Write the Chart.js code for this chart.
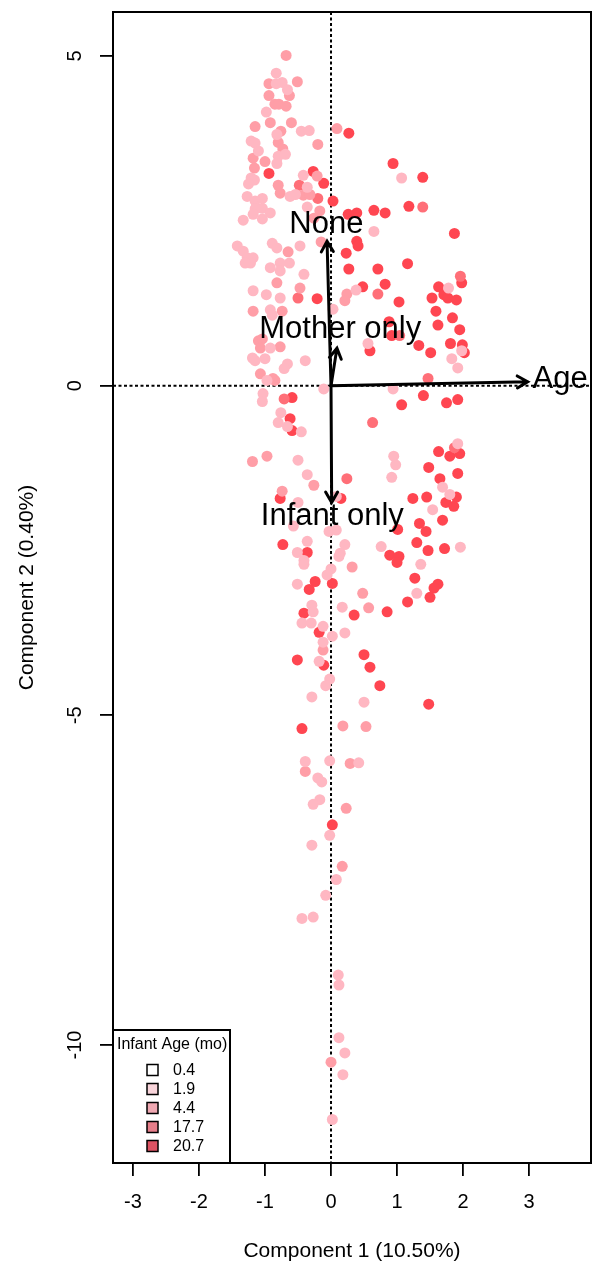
<!DOCTYPE html>
<html lang="en">
<head>
<meta charset="UTF-8">
<title>PCA biplot - Infant Age</title>
<script src="https://cdn.jsdelivr.net/npm/chart.js"></script>
<style>
  html, body { margin: 0; padding: 0; background: #fff; }
  #wrap { width: 592px; height: 1267px; }
</style>
</head>
<body>
<div id="wrap"><canvas id="biplot" width="592" height="1267"></canvas></div>
<script>
// legend groups (infant age, months)
const ageLabels = ['0.4', '1.9', '4.4', '17.7', '20.7'];
const legendColors = ['#ffffff', '#f8d4da', '#efa8b2', '#e67e8a', '#dd5363'];
const pointColors = ['#ffffff', '#ffb7c2', '#ff9ea7', '#ff6f78', '#ff4651'];

// sample scores [component 1, component 2], by age group
const pts04 = [];
const pts19 = [
  [-0.83,4.74],[-0.83,4.58],[-0.74,4.60],[-0.66,4.49],[-0.98,4.15],[-0.45,3.86],[-0.33,3.87],[-0.82,3.81],
  [-1.21,3.71],[-1.15,3.68],[-1.10,3.56],[-0.80,3.48],[-0.69,3.51],[-0.82,3.37],[-0.42,3.19],[-1.21,3.15],
  [-1.16,3.12],[-1.25,3.06],[-0.36,3.01],[-0.62,2.87],[-0.54,2.90],[-1.27,2.87],[-1.15,2.80],[-1.04,2.84],
  [-0.36,2.71],[-1.15,2.68],[-1.04,2.69],[-0.92,2.62],[-1.18,2.60],[-1.33,2.51],[-1.04,2.53],
  [1.07,3.15],[0.65,2.34],[0.38,1.45],[1.78,1.48],[1.98,0.53],[1.83,0.41],[1.92,0.27],[0.56,0.64],
  [-1.42,2.12],[-1.33,2.04],[-1.27,1.94],[-1.18,1.94],[-1.22,1.86],[-1.30,1.86],[-0.89,2.16],[-0.82,2.09],
  [-0.47,2.12],[-0.77,1.86],[-0.63,1.86],[-0.92,1.79],[-0.77,1.74],[-0.41,1.69],[-1.18,1.44],[-0.98,1.38],
  [-0.77,1.33],[-0.92,1.15],[-0.89,1.07],[0.03,1.16],[-0.92,0.57],[-1.19,0.42],[-1.15,0.38],[-1.00,0.41],
  [-0.66,0.33],[-0.71,0.26],[-0.39,0.38],[-0.97,0.08],
  [-0.11,-0.05],[-1.03,-0.12],[-1.04,-0.24],[-0.76,-0.41],[-0.80,-0.56],[-0.66,-0.62],[-0.45,-0.70],
  [-0.50,-1.13],[-0.36,-1.35],[-0.50,-1.77],[0.08,-1.68],[-0.57,-2.13],[-0.03,-2.21],[0.08,-2.19],
  [-0.36,-2.36],[0.21,-2.41],[-0.51,-2.53],[0.14,-2.54],
  [0.94,-0.05],[1.92,-0.88],[0.95,-1.07],[0.98,-1.20],[0.92,-1.39],[1.69,-1.54],[1.80,-1.65],[1.54,-1.88],
  [0.76,-2.44],[1.96,-2.45],[1.36,-2.71],
  [-0.41,-2.65],[-0.41,-2.71],[0.12,-2.59],[0.00,-2.78],[-0.06,-2.87],[-0.51,-3.01],[1.30,-3.15],[-0.29,-3.33],
  [-0.27,-3.43],[0.17,-3.36],[-0.44,-3.60],[-0.30,-3.60],[-0.12,-3.65],[0.02,-3.80],[0.21,-3.75],[-0.12,-3.89],
  [-0.18,-4.18],[-0.02,-4.45],[-0.08,-4.55],[-0.29,-4.72],[0.50,-4.80],[-0.39,-5.70],[-0.02,-5.69],[0.42,-5.72],
  [-0.20,-5.95],[-0.14,-6.01],[-0.17,-6.28],[-0.27,-6.35],[-0.02,-6.82],[-0.29,-6.97],[0.08,-7.49],[-0.08,-7.73],
  [-0.44,-8.08],[-0.27,-8.06],[0.11,-8.94],[0.12,-9.09],[0.12,-9.89],[0.21,-10.12],[0.18,-10.45],[0.02,-11.13]
];
const pts44 = [
  [-0.68,5.01],[-0.94,4.58],[-0.51,4.61],[-0.63,4.40],[-0.94,4.40],[-0.85,4.27],[-0.79,4.27],[-0.68,4.24],
  [-0.92,3.99],[-0.60,3.99],[-1.15,3.93],[-0.76,3.86],[0.09,3.90],[-0.80,3.69],[-0.20,3.66],[-0.73,3.59],
  [-1.18,3.45],[-1.00,3.40],[-1.16,3.30],[-0.21,3.18],[-0.80,3.04],[-0.77,2.92],[-0.42,2.89],[-0.32,2.90],
  [-0.17,2.65],[-0.26,2.54],[-0.15,2.18],[0.24,1.39],[0.21,1.29],[-0.65,2.03],[-0.82,1.56],[-0.47,1.48],
  [-1.18,1.13],[-0.74,1.13],[-1.10,0.68],[-1.04,0.71],[-1.07,0.57],[-0.77,0.59],[-1.07,0.18],[-0.88,0.11],
  [-0.85,0.08],[-0.97,-1.07],[-1.19,-1.15],[-0.26,-1.51],[-0.74,-1.60],[0.32,-2.75],[0.48,-3.15],[0.57,-3.37],
  [-0.12,-4.01],[0.18,-5.16],[0.53,-5.17],[-0.39,-5.85],[0.29,-5.73],[0.23,-6.41],[0.17,-7.29],[0.00,-10.26]
];
const pts177 = [
  [-0.48,3.04],[-0.20,2.84],[1.39,2.71],[0.71,1.39],[1.96,1.66],[1.47,0.11],[1.04,0.76],[-0.50,1.33],
  [-0.71,-0.20],[0.24,-1.41],[0.63,-0.56],[1.87,-0.94]
];
const pts207 = [
  [0.27,3.83],[-0.94,3.22],[-0.27,3.25],[-0.11,3.07],[0.03,2.80],[0.94,3.37],[1.39,3.16],[1.18,2.72],
  [0.65,2.66],[0.82,2.62],[0.39,2.62],[0.26,2.60],[0.39,2.19],[0.41,2.12],[1.87,2.31],[0.23,2.01],
  [1.16,1.85],[0.71,1.77],[0.27,1.77],[0.82,1.54],[0.48,1.50],[1.03,1.27],[1.98,1.56],[1.63,1.50],
  [1.53,1.33],[1.71,1.38],[1.77,1.33],[1.90,1.30],[1.59,1.13],[1.84,1.03],[1.62,0.92],[1.95,0.85],
  [0.88,0.97],[0.92,0.76],[1.33,0.61],[1.51,0.50],[1.81,0.64],[1.99,0.62],[2.02,0.50],[0.59,0.53],
  [-0.21,1.32],[-0.59,-0.18],[-0.62,-0.50],[-0.59,-0.68],[-0.77,-1.71],[0.15,-1.71],[-0.73,-2.41],[-0.36,-2.53],
  [1.40,-0.15],[1.07,-0.29],[1.75,-0.26],[1.92,-0.21],[1.63,-1.00],[1.80,-1.07],[1.95,-1.03],[1.48,-1.24],
  [1.92,-1.33],[1.65,-1.41],[1.90,-1.69],[1.74,-1.77],[1.86,-1.83],[1.24,-1.71],[1.45,-1.69],[1.69,-2.04],
  [1.34,-2.09],[1.44,-2.21],[1.01,-2.18],[1.30,-2.38],[1.47,-2.50],[1.72,-2.47],[0.89,-2.57],[1.03,-2.59],
  [1.00,-2.68],[1.27,-2.92],[1.62,-3.01],[1.56,-3.07],[-0.24,-2.97],[0.02,-3.00],[-0.33,-3.09],[1.50,-3.21],
  [1.16,-3.28],[0.35,-3.48],[0.85,-3.43],[-0.41,-3.45],[-0.18,-3.74],[-0.51,-4.16],[-0.11,-4.24],[0.50,-4.08],
  [0.59,-4.27],[0.74,-4.55],[1.48,-4.83],[-0.44,-5.20],[0.02,-6.66]
];
const groups = [pts04, pts19, pts44, pts177, pts207];

// loading vectors (arrow tips) and where their names sit
const loadNames = ['None', 'Mother only', 'Age', 'Infant only'];
const loadX = [-0.06, 0.09, 2.98, 0.01];
const loadY = [2.19, 0.57, 0.06, -1.77];
const labelX = [-0.07, 0.14, 3.47, 0.02];
const labelY = [2.44, 0.85, 0.10, -1.98];

const xTicks = [-3, -2, -1, 0, 1, 2, 3];
const yTicks = [-10, -5, 0, 5];
const xTitle = 'Component 1 (10.50%)';
const yTitle = 'Component 2 (0.40%)';
const legendTitle = 'Infant Age (mo)';

const FONT = "'Liberation Sans', Arial, sans-serif";

// keep the plot box exactly where the reference has it
function noScalePadding(s) {
  s.paddingTop = 0; s.paddingBottom = 0; s.paddingLeft = 0; s.paddingRight = 0;
}

const biplotExtras = {
  id: 'biplotExtras',
  beforeDatasetsDraw(chart) {
    const {ctx, chartArea: a, scales: {x, y}} = chart;
    ctx.save();
    ctx.strokeStyle = '#000';
    ctx.lineWidth = 2;
    ctx.setLineDash([3, 2.5]);
    ctx.beginPath();
    ctx.moveTo(x.getPixelForValue(0), a.top);
    ctx.lineTo(x.getPixelForValue(0), a.bottom);
    ctx.moveTo(a.left, y.getPixelForValue(0));
    ctx.lineTo(a.right, y.getPixelForValue(0));
    ctx.stroke();
    ctx.restore();
  },
  afterDatasetsDraw(chart) {
    const {ctx, chartArea: a, scales: {x, y}} = chart;
    const x0 = x.getPixelForValue(0), y0 = y.getPixelForValue(0);
    ctx.save();
    // arrows
    ctx.strokeStyle = '#000';
    ctx.lineWidth = 3;
    ctx.lineCap = 'round';
    for (let i = 0; i < loadNames.length; i++) {
      const tx = x.getPixelForValue(loadX[i]), ty = y.getPixelForValue(loadY[i]);
      const ang = Math.atan2(ty - y0, tx - x0);
      const hl = 12;
      ctx.beginPath();
      ctx.moveTo(x0, y0);
      ctx.lineTo(tx, ty);
      ctx.moveTo(tx - hl * Math.cos(ang - Math.PI / 6), ty - hl * Math.sin(ang - Math.PI / 6));
      ctx.lineTo(tx, ty);
      ctx.lineTo(tx - hl * Math.cos(ang + Math.PI / 6), ty - hl * Math.sin(ang + Math.PI / 6));
      ctx.stroke();
    }
    // arrow names
    ctx.fillStyle = '#000';
    ctx.font = '31px ' + FONT;
    ctx.textAlign = 'center';
    ctx.textBaseline = 'middle';
    for (let i = 0; i < loadNames.length; i++) {
      ctx.fillText(loadNames[i], x.getPixelForValue(labelX[i]), y.getPixelForValue(labelY[i]));
    }
    // frame
    ctx.lineWidth = 2;
    ctx.lineCap = 'butt';
    ctx.strokeRect(a.left, a.top, a.right - a.left, a.bottom - a.top);
    // legend
    const lx = a.left, ly = a.bottom - 133, lw = 117, lh = 133;
    ctx.fillStyle = '#fff';
    ctx.fillRect(lx, ly, lw, lh);
    ctx.strokeRect(lx, ly, lw, lh);
    ctx.fillStyle = '#000';
    ctx.font = '16px ' + FONT;
    ctx.textAlign = 'left';
    ctx.fillText(legendTitle, lx + 4, ly + 15);
    ctx.lineWidth = 1.5;
    for (let i = 0; i < ageLabels.length; i++) {
      const ry = ly + 40 + i * 19;
      ctx.fillStyle = legendColors[i];
      ctx.fillRect(lx + 34, ry - 5.5, 11, 11);
      ctx.strokeRect(lx + 34, ry - 5.5, 11, 11);
      ctx.fillStyle = '#000';
      ctx.fillText(ageLabels[i], lx + 60, ry + 1);
    }
    ctx.restore();
  }
};

const datasets = groups.map((g, i) => ({
  label: ageLabels[i],
  data: g.map(p => ({x: p[0], y: p[1]})),
  backgroundColor: pointColors[i],
  borderWidth: 0,
  pointRadius: 5.5,
  pointHoverRadius: 5.5
}));

new Chart(document.getElementById('biplot'), {
  type: 'scatter',
  data: {datasets},
  plugins: [biplotExtras],
  options: {
    responsive: false,
    animation: false,
    devicePixelRatio: 1,
    layout: {autoPadding: false, padding: {left: 0, right: 1, top: 12, bottom: 0}},
    plugins: {legend: {display: false}, tooltip: {enabled: false}},
    scales: {
      x: {
        type: 'linear',
        position: 'bottom',
        min: -3.303,
        max: 3.939,
        afterBuildTicks: s => { s.ticks = xTicks.map(v => ({value: v})); },
        afterFit: s => { s.height = 104; noScalePadding(s); },
        grid: {display: true, drawOnChartArea: false, drawTicks: true, tickLength: 13, tickColor: '#000', lineWidth: 1.8, tickWidth: 1.8},
        border: {display: false},
        ticks: {color: '#000', font: {family: FONT, size: 20}, padding: 14, maxRotation: 0, autoSkip: false},
        title: {display: true, text: xTitle, color: '#000', font: {family: FONT, size: 21}, padding: {top: 0, bottom: 3.5}}
      },
      y: {
        type: 'linear',
        position: 'left',
        min: -11.79,
        max: 5.668,
        afterBuildTicks: s => { s.ticks = yTicks.map(v => ({value: v})); },
        afterFit: s => { s.width = 113; noScalePadding(s); },
        grid: {display: true, drawOnChartArea: false, drawTicks: true, tickLength: 13, tickColor: '#000', lineWidth: 1.8, tickWidth: 1.8},
        border: {display: false},
        ticks: {color: '#000', font: {family: FONT, size: 20}, padding: 10.5, minRotation: 90, maxRotation: 90, crossAlign: 'center', autoSkip: false},
        title: {display: true, text: yTitle, color: '#000', font: {family: FONT, size: 21}, padding: {top: 14.4, bottom: 0}}
      }
    }
  }
});
</script>
</body>
</html>
